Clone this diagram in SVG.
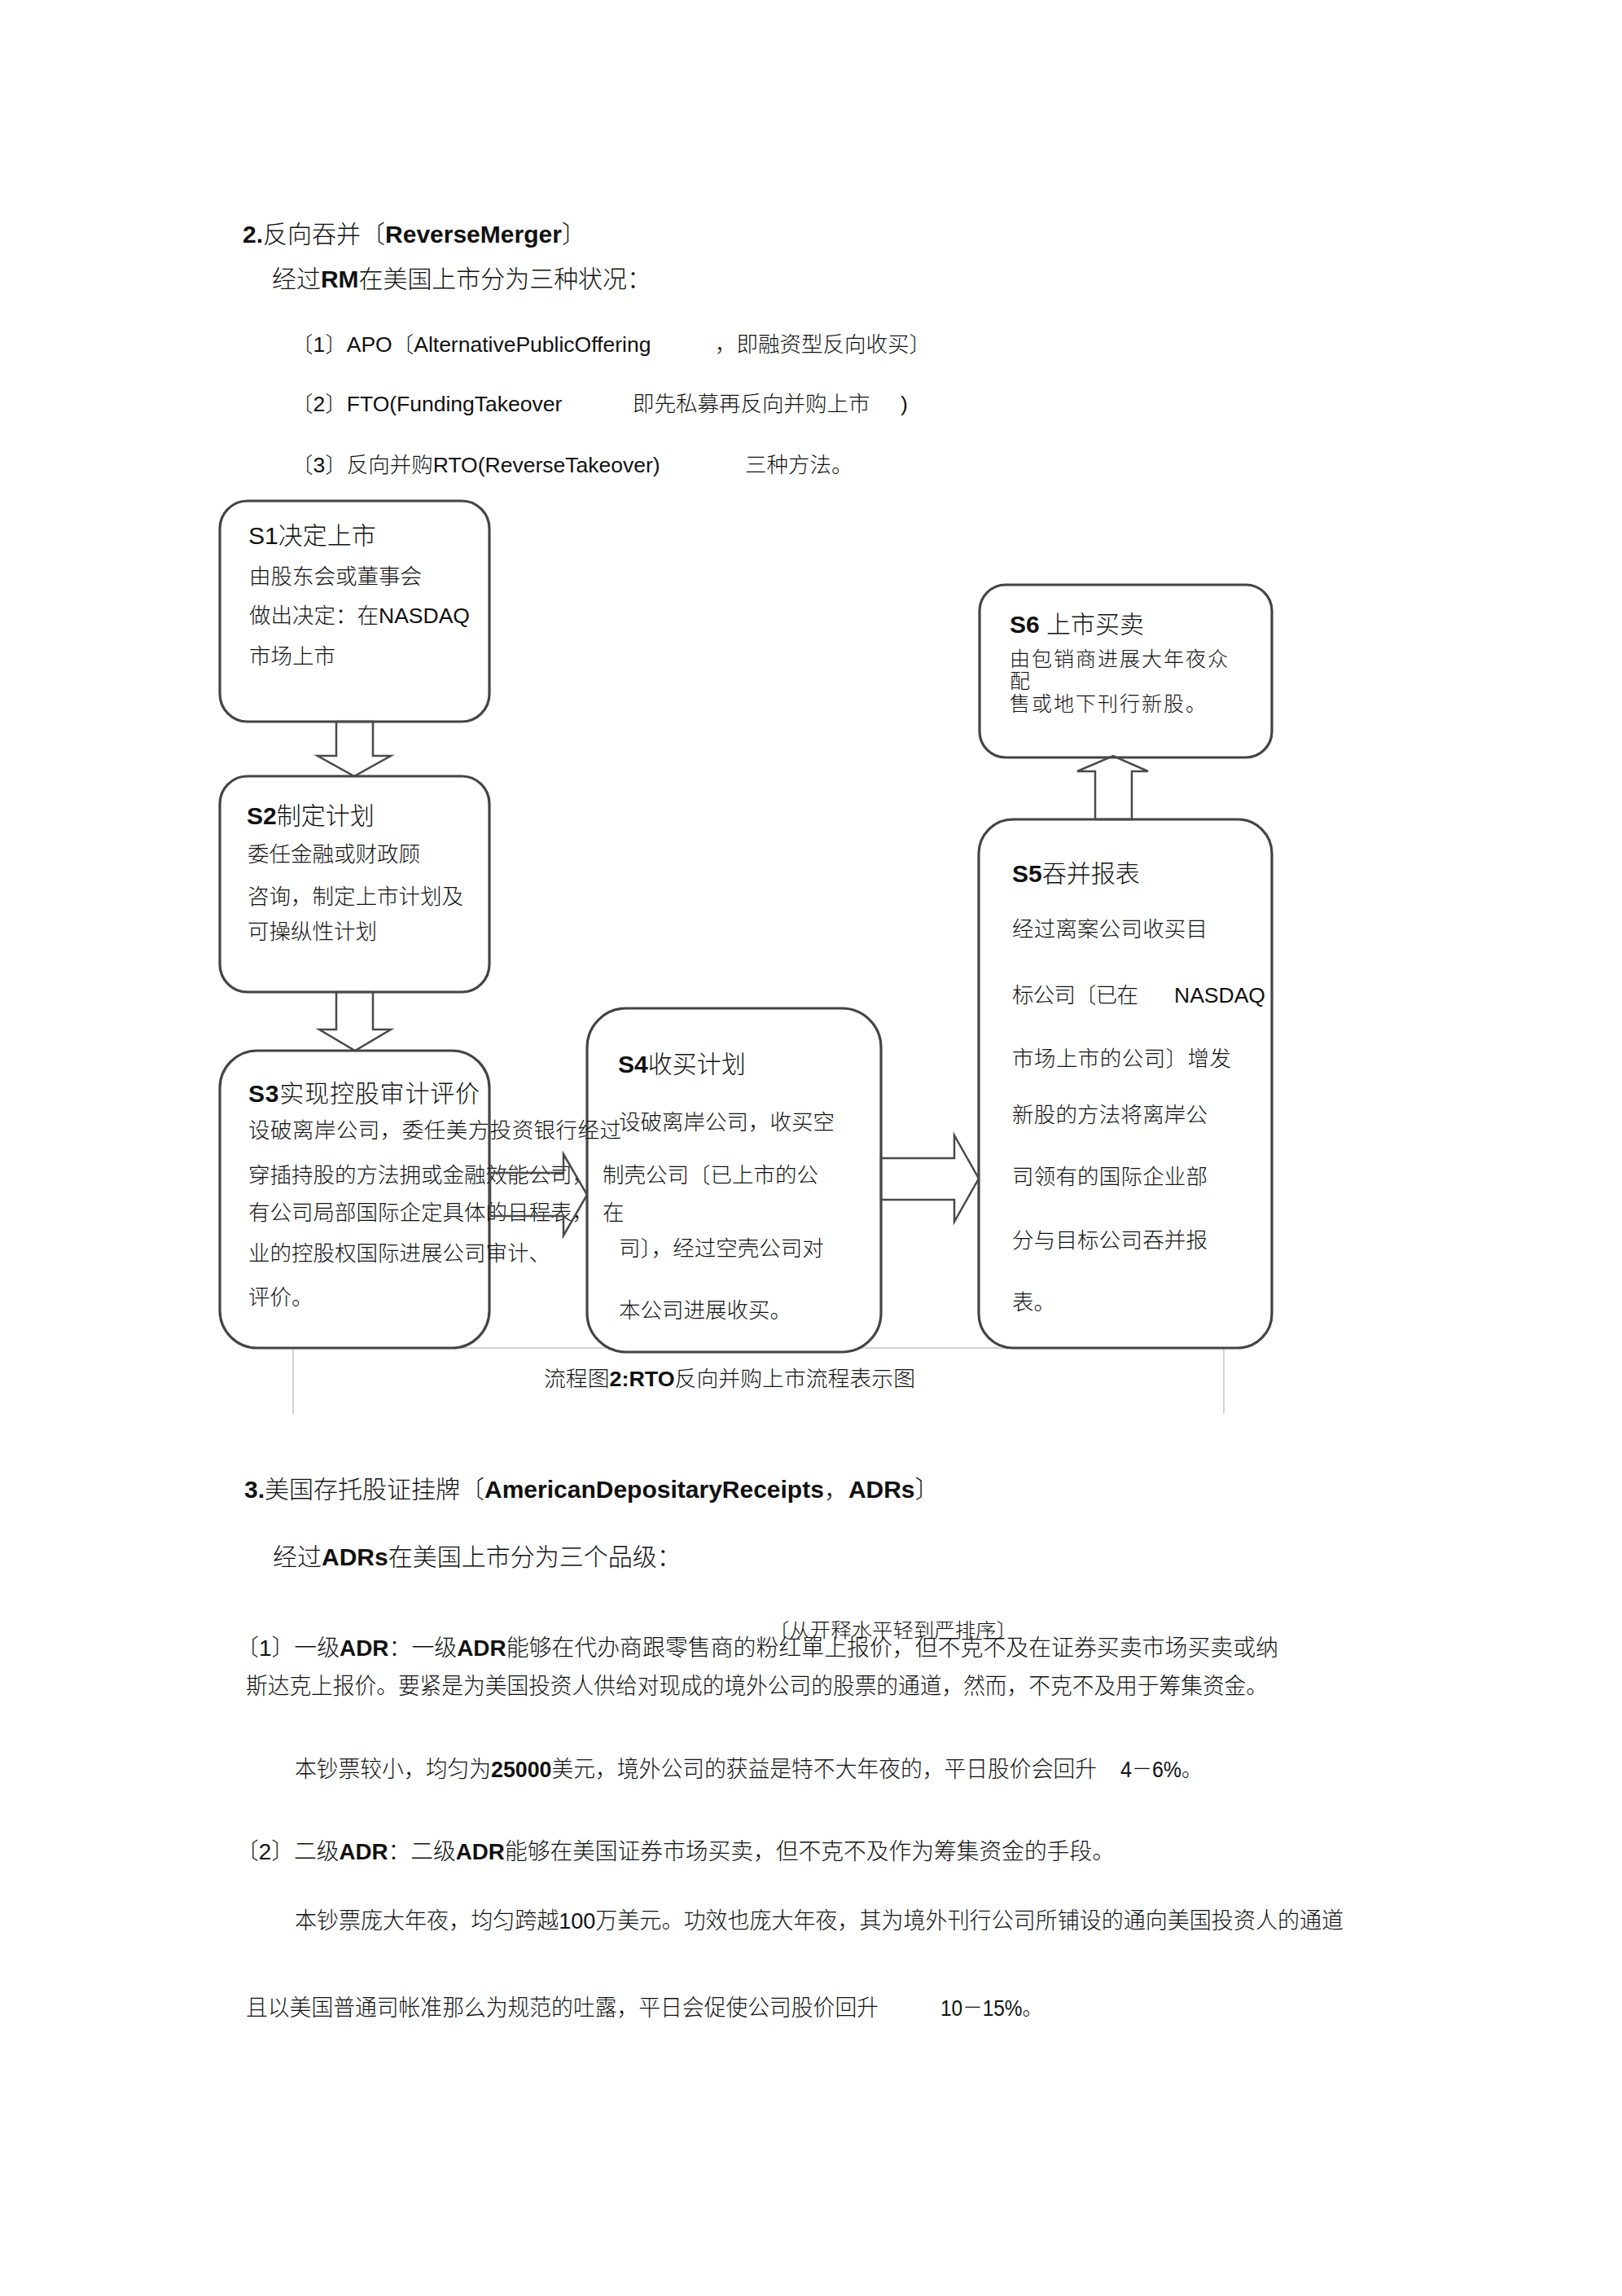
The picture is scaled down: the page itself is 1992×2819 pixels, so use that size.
<svg xmlns="http://www.w3.org/2000/svg" width="1992" height="2819" viewBox="0 0 1992 2819">
<style>
.t{font-family:"Liberation Sans","Noto Sans CJK SC",sans-serif;font-weight:300;fill:#111}
.b{font-weight:700}
.h{font-size:30px}
.m{font-size:26.5px}
.n{font-size:26.5px}
.s{font-size:25px}
.p{font-size:28px}
.box{fill:#fff;stroke:#444;stroke-width:3.2}
.arr{fill:none;stroke:#4a4a4a;stroke-width:2.5;stroke-linejoin:miter}
.frame{stroke:#d2d2d2;stroke-width:2;fill:none}
</style>
<rect width="1992" height="2819" fill="#fff"/>

<g id="intro" class="t">
<text x="298" y="298" class="h"><tspan class="b">2.</tspan>反向吞并〔<tspan class="b">ReverseMerger</tspan>〕</text>
<text x="334" y="353" class="h" textLength="466" lengthAdjust="spacingAndGlyphs">经过<tspan class="b">RM</tspan>在美国上市分为三种状况：</text>
<text x="358" y="432" class="m">〔1〕APO〔AlternativePublicOffering</text>
<text x="878" y="432" class="m">，即融资型反向收买〕</text>
<text x="358" y="505" class="m">〔2〕FTO(FundingTakeover</text>
<text x="777" y="505" class="m">即先私募再反向并购上市</text>
<text x="1106" y="505" class="m">)</text>
<text x="358" y="580" class="m">〔3〕反向并购RTO(ReverseTakeover)</text>
<text x="915" y="580" class="m">三种方法。</text>
</g>

<g id="caption-frame">
<line class="frame" x1="360" y1="1655" x2="1503" y2="1655"/>
<line class="frame" x1="360" y1="1655" x2="360" y2="1736"/>
<line class="frame" x1="1503" y1="1655" x2="1503" y2="1736"/>
</g>

<g id="S1">
<rect class="box" x="270" y="615" width="331" height="271" rx="34"/>
<g class="t">
<text x="305" y="668" class="h">S1决定上市</text>
<text x="306" y="717" class="n">由股东会或董事会</text>
<text x="306" y="765" class="n">做出决定：在NASDAQ</text>
<text x="306" y="815" class="n">市场上市</text>
</g>
</g>

<g id="S2">
<rect class="box" x="270" y="953" width="331" height="265" rx="34"/>
<g class="t">
<text x="303" y="1012" class="h"><tspan class="b">S2</tspan>制定计划</text>
<text x="304" y="1058" class="n">委任金融或财政顾</text>
<text x="304" y="1110" class="n">咨询，制定上市计划及</text>
<text x="304" y="1153" class="n">可操纵性计划</text>
</g>
</g>

<g id="S6">
<rect class="box" x="1203" y="718" width="359" height="212" rx="32"/>
<g class="t">
<text x="1240" y="777" class="h"><tspan class="b">S6</tspan> 上市买卖</text>
<text x="1240" y="818" class="s" textLength="268" lengthAdjust="spacing">由包销商进展大年夜众</text>
<text x="1240" y="845" class="s">配</text>
<text x="1240" y="873" class="s" textLength="241" lengthAdjust="spacing">售或地下刊行新股。</text>
</g>
</g>

<g id="S5">
<rect class="box" x="1202" y="1006" width="360" height="649" rx="42"/>
<g class="t">
<text x="1243" y="1083" class="h"><tspan class="b">S5</tspan>吞并报表</text>
<text x="1243" y="1150" class="n" textLength="240" lengthAdjust="spacing">经过离案公司收买目</text>
<text x="1243" y="1231" class="n" textLength="155" lengthAdjust="spacing">标公司〔已在</text>
<text x="1442" y="1231" class="n">NASDAQ</text>
<text x="1243" y="1309" class="n" textLength="269" lengthAdjust="spacing">市场上市的公司〕增发</text>
<text x="1243" y="1378" class="n" textLength="240" lengthAdjust="spacing">新股的方法将离岸公</text>
<text x="1243" y="1454" class="n" textLength="240" lengthAdjust="spacing">司领有的国际企业部</text>
<text x="1243" y="1532" class="n" textLength="240" lengthAdjust="spacing">分与目标公司吞并报</text>
<text x="1243" y="1608" class="n">表。</text>
</g>
</g>

<g id="S4">
<rect class="box" x="721" y="1238" width="361" height="422" rx="48"/>
<g class="t">
<text x="759" y="1317" class="h"><tspan class="b">S4</tspan>收买计划</text>
<text x="760" y="1387" class="n">设破离岸公司，收买空</text>
<text x="740" y="1452" class="n">制壳公司〔已上市的公</text>
<text x="760" y="1542" class="n">司〕，经过空壳公司对</text>
<text x="760" y="1618" class="n">本公司进展收买。</text>
</g>
</g>

<g id="S3">
<rect class="box" x="270" y="1290" width="331" height="365" rx="46"/>
<g class="t">
<text x="305" y="1353" class="h" textLength="284" lengthAdjust="spacing"><tspan class="b">S3</tspan>实现控股审计评价</text>
<text x="305" y="1397" class="n" textLength="458" lengthAdjust="spacing">设破离岸公司，委任美方投资银行经过</text>
<text x="305" y="1452" class="n">穿插持股的方法拥或金融效能公司，</text>
<text x="305" y="1498" class="n">有公司局部国际企定具体的日程表，</text>
<text x="740" y="1498" class="n">在</text>
<text x="305" y="1548" class="n">业的控股权国际进展公司审计、</text>
<text x="305" y="1602" class="n">评价。</text>
</g>
</g>

<g id="connectors">
<polygon class="arr" points="413,886 458,886 458,928 480,928 435,953 390,928 413,928"/>
<polygon class="arr" points="413,1218 458,1218 458,1264 480,1264 436,1290 392,1264 413,1264"/>
<polygon class="arr" points="602,1440 692,1440 692,1417 721,1467 692,1517 692,1493 602,1493"/>
<polygon class="arr" points="1082,1422 1172,1422 1172,1394 1202,1447 1172,1500 1172,1473 1082,1473"/>
<polygon class="arr" points="1345,1006 1345,947 1323,947 1367,928 1410,947 1390,947 1390,1006"/>
</g>

<g id="caption" class="t">
<text x="668" y="1702" font-size="26" textLength="456" lengthAdjust="spacingAndGlyphs">流程图<tspan class="b">2:RTO</tspan>反向并购上市流程表示图</text>
</g>

<g id="section3" class="t">
<text x="300" y="1839" class="h"><tspan class="b">3.</tspan>美国存托股证挂牌〔<tspan class="b">AmericanDepositaryReceipts</tspan>，<tspan class="b">ADRs</tspan>〕</text>
<text x="335" y="1922" class="h">经过<tspan class="b">ADRs</tspan>在美国上市分为三个品级：</text>
<text x="944" y="2010" font-size="24" textLength="305" lengthAdjust="spacingAndGlyphs">〔从开释水平轻到严排序〕</text>
<text x="290" y="2033" class="p" textLength="1280" lengthAdjust="spacingAndGlyphs">〔1〕一级<tspan class="b">ADR</tspan>：一级<tspan class="b">ADR</tspan>能够在代办商跟零售商的粉红單上报价，但不克不及在证券买卖市场买卖或纳</text>
<text x="302" y="2080" class="p" textLength="1255" lengthAdjust="spacingAndGlyphs">斯达克上报价。要紧是为美国投资人供给对现成的境外公司的股票的通道，然而，不克不及用于筹集资金。</text>
<text x="362" y="2182" class="p" textLength="985" lengthAdjust="spacingAndGlyphs">本钞票较小，均匀为<tspan class="b">25000</tspan>美元，境外公司的获益是特不大年夜的，平日股价会回升</text>
<text x="1376" y="2182" class="p" textLength="100" lengthAdjust="spacingAndGlyphs">4－6%。</text>
<text x="290" y="2283" class="p" textLength="1079" lengthAdjust="spacingAndGlyphs">〔2〕二级<tspan class="b">ADR</tspan>：二级<tspan class="b">ADR</tspan>能够在美国证券市场买卖，但不克不及作为筹集资金的手段。</text>
<text x="362" y="2368" class="p" textLength="1288" lengthAdjust="spacingAndGlyphs">本钞票庞大年夜，均匀跨越100万美元。功效也庞大年夜，其为境外刊行公司所铺设的通向美国投资人的通道</text>
<text x="302" y="2475" class="p" textLength="777" lengthAdjust="spacingAndGlyphs">且以美国普通司帐准那么为规范的吐露，平日会促使公司股价回升</text>
<text x="1155" y="2475" class="p" textLength="125" lengthAdjust="spacingAndGlyphs">10－15%。</text>
</g>
</svg>
